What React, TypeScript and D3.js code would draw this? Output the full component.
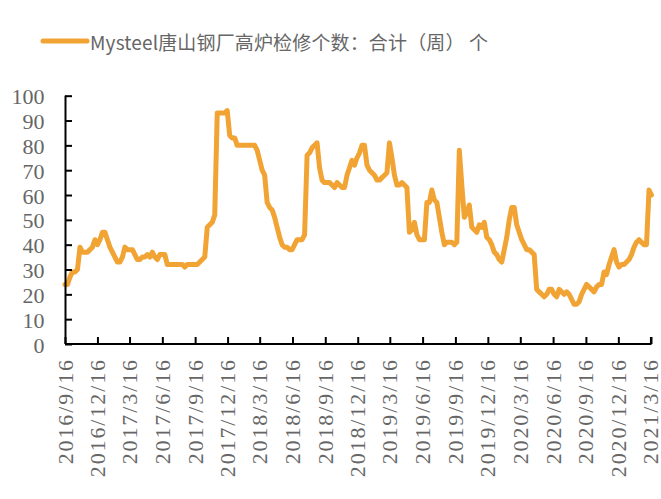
import React, { useRef, useEffect } from 'react';
import * as d3 from 'd3';

// weekly series, first week 2016/9/16
const seriesName = 'Mysteel唐山钢厂高炉检修个数：合计（周） 个';
const startDate = '2016/9/16';
const values = [
  24, 24, 27, 29, 29, 30, 39, 37, 37, 37,
  38, 39, 42, 40, 42, 45, 45, 42, 39, 37,
  35, 33, 33, 35, 39, 38, 38, 38, 36, 34,
  34, 35, 35, 36, 35, 37, 35, 34, 36, 36,
  36, 32, 32, 32, 32, 32, 32, 32, 31, 32,
  32, 32, 32, 32, 33, 34, 35, 47, 48, 49,
  52, 93, 93, 93, 93, 94, 84, 83, 83, 80,
  80, 80, 80, 80, 80, 80, 80, 78, 74, 70,
  68, 57, 55, 54, 51, 47, 43, 40, 39, 39,
  38, 38, 40, 42, 42, 42, 44, 76, 77, 79,
  80, 81, 71, 66, 65, 65, 65, 64, 63, 65,
  64, 63, 63, 68, 71, 74, 72, 75, 77, 80,
  80, 72, 70, 69, 68, 66, 66, 67, 68, 69,
  81, 75, 68, 64, 64, 65, 64, 63, 45, 46,
  49, 44, 42, 42, 42, 57, 57, 62, 58, 57,
  51, 45, 40, 41, 41, 41, 40, 41, 78, 64,
  51, 53, 56, 47, 46, 45, 48, 47, 49, 43,
  42, 40, 37, 36, 34, 33, 38, 43, 50, 55,
  55, 48, 45, 42, 40, 38, 38, 37, 36, 22,
  21, 20, 19, 20, 22, 22, 20, 19, 22, 21,
  20, 21, 20, 18, 16, 16, 17, 20, 22, 24,
  23, 22, 21, 23, 24, 24, 29, 28, 32, 35,
  38, 33, 31, 32, 32, 33, 34, 36, 39, 41,
  42, 41, 40, 40, 62, 60,
];
const xTickLabels = [
  '2016/9/16', '2016/12/16', '2017/3/16', '2017/6/16', '2017/9/16',
  '2017/12/16', '2018/3/16', '2018/6/16', '2018/9/16', '2018/12/16',
  '2019/3/16', '2019/6/16', '2019/9/16', '2019/12/16', '2020/3/16',
  '2020/6/16', '2020/9/16', '2020/12/16', '2021/3/16',
];
const yTicks = [0, 10, 20, 30, 40, 50, 60, 70, 80, 90, 100];

const parseDay = (s: string) => {
  const [y, m, d] = s.split('/').map(Number);
  return new Date(y, m - 1, d);
};

const serifFont = "'Liberation Serif', 'DejaVu Serif', serif";

const App = () => {
  const svgRef = useRef<SVGSVGElement>(null);

  useEffect(() => {
    const svg = d3.select(svgRef.current);
    svg.selectAll('*').remove();

    const width = 661;
    const height = 499;
    const margin = { top: 95.7, right: 9.5, bottom: 155, left: 65 };
    const lineColor = '#F1A334';
    const textColor = '#666666';

    const start = parseDay(startDate);
    const data = values.map((v, i) => ({ date: d3.timeWeek.offset(start, i), value: v }));

    const x = d3.scaleTime()
      .domain([start, data[data.length - 1].date])
      .range([margin.left, width - margin.right]);

    const y = d3.scaleLinear()
      .domain([0, 100])
      .range([height - margin.bottom, margin.top]);

    // legend
    const legend = svg.append('g');
    legend.append('line')
      .attr('x1', 43).attr('x2', 87)
      .attr('y1', 41).attr('y2', 41)
      .attr('stroke', lineColor)
      .attr('stroke-width', 5)
      .attr('stroke-linecap', 'round');
    legend.append('text')
      .attr('x', 90)
      .attr('y', 41)
      .attr('dominant-baseline', 'central')
      .attr('font-family', "'Noto Sans CJK SC', sans-serif")
      .attr('font-size', 19)
      .attr('letter-spacing', 0.15)
      .attr('fill', textColor)
      .text(seriesName);

    // line
    const line = d3.line<{ date: Date; value: number }>()
      .x(d => x(d.date))
      .y(d => y(d.value));

    svg.append('path')
      .datum(data)
      .attr('fill', 'none')
      .attr('stroke', lineColor)
      .attr('stroke-width', 5)
      .attr('stroke-linejoin', 'round')
      .attr('stroke-linecap', 'round')
      .attr('d', line);

    // y axis
    const yAxis = svg.append('g')
      .attr('transform', `translate(${margin.left},0)`)
      .call(d3.axisRight(y).tickValues(yTicks).tickSize(7).tickFormat(() => ''));
    yAxis.select('.domain').attr('stroke', '#000').attr('stroke-width', 2)
      .attr('d', `M0.5,${y(100)}V${y(0)}`);
    yAxis.selectAll('.tick line').attr('stroke', '#000').attr('stroke-width', 2);

    svg.append('g')
      .selectAll('text')
      .data(yTicks)
      .join('text')
      .attr('x', 44.5)
      .attr('y', d => y(d) + 1)
      .attr('text-anchor', 'end')
      .attr('dominant-baseline', 'central')
      .attr('font-family', serifFont)
      .attr('font-size', 22)
      .attr('fill', textColor)
      .text(d => d);

    // x axis
    const tickDates = xTickLabels.map(parseDay);
    const xAxis = svg.append('g')
      .attr('transform', `translate(0,${height - margin.bottom})`)
      .call(d3.axisTop(x).tickValues(tickDates).tickSize(7).tickFormat(() => ''));
    xAxis.select('.domain').attr('stroke', '#000').attr('stroke-width', 2)
      .attr('d', `M${margin.left},0H${width - margin.right}`);
    xAxis.selectAll('.tick line').attr('stroke', '#000').attr('stroke-width', 2);
    // closing tick at the right end of the axis
    xAxis.append('line')
      .attr('x1', width - margin.right).attr('x2', width - margin.right)
      .attr('y1', 0).attr('y2', -7)
      .attr('stroke', '#000').attr('stroke-width', 2);

    svg.append('g')
      .selectAll('text')
      .data(xTickLabels)
      .join('text')
      .attr('transform', (d, i) => `translate(${x(tickDates[i])},${height - margin.bottom + 14}) rotate(-90)`)
      .attr('text-anchor', 'end')
      .attr('dominant-baseline', 'central')
      .attr('font-family', serifFont)
      .attr('font-size', 22)
      .attr('letter-spacing', 1.9)
      .attr('fill', textColor)
      .text(d => d);
  }, []);

  return (
    <div>
      <svg
        ref={svgRef}
        width={661}
        height={499}
        style={{ position: 'absolute', left: 0, top: 0, background: '#fff' }}
      />
    </div>
  );
};

export default App;
